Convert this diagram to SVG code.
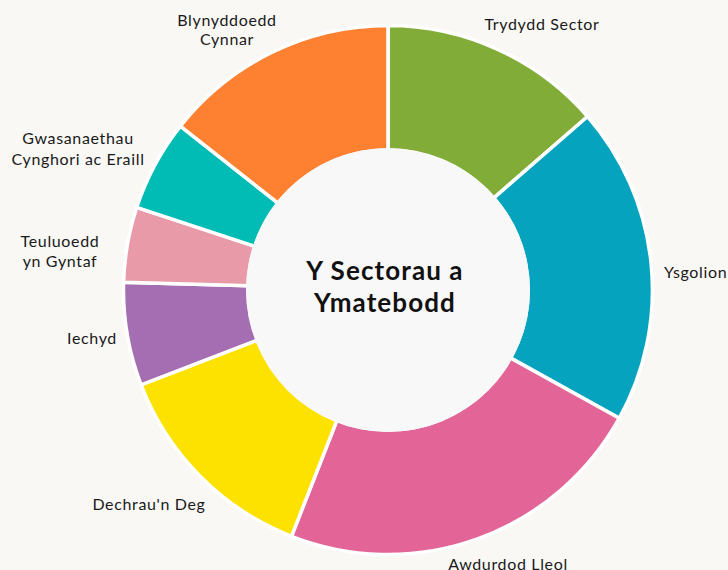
<svg xmlns="http://www.w3.org/2000/svg" width="728" height="570" viewBox="0 0 728 570">
<style>
.seg{stroke:#ffffff;stroke-width:3.5;stroke-linejoin:miter}
.lbl{font-family:Lato,"Liberation Sans",sans-serif;font-size:16px;letter-spacing:0.65px;fill:#1a1a1a;text-anchor:middle}
.title{font-family:Lato,"Liberation Sans",sans-serif;font-size:26px;letter-spacing:1.1px;font-weight:bold;fill:#111111;text-anchor:middle}
</style>
<rect x="0" y="0" width="728" height="570" fill="#f9f8f5"/>
<g id="connectors"></g>
<g id="seg-trydydd"><path class="seg" fill="#80ac37" d="M388,25.5 A264.5,264.5 0 0 1 587.6,116.5 L493.7,198.1 A140,140 0 0 0 388,150 Z"/></g>
<g id="seg-ysgolion"><path class="seg" fill="#05a3be" d="M587.6,116.5 A264.5,264.5 0 0 1 619.3,418.2 L510.4,357.9 A140,140 0 0 0 493.7,198.1 Z"/></g>
<g id="seg-awdurdod"><path class="seg" fill="#e36598" d="M619.3,418.2 A264.5,264.5 0 0 1 291.5,536.3 L336.9,420.4 A140,140 0 0 0 510.4,357.9 Z"/></g>
<g id="seg-dechrau"><path class="seg" fill="#fde200" d="M291.5,536.3 A264.5,264.5 0 0 1 141.1,384.8 L257.3,340.2 A140,140 0 0 0 336.9,420.4 Z"/></g>
<g id="seg-iechyd"><path class="seg" fill="#a66eb2" d="M141.1,384.8 A264.5,264.5 0 0 1 123.6,282.2 L248.1,285.8 A140,140 0 0 0 257.3,340.2 Z"/></g>
<g id="seg-teuluoedd"><path class="seg" fill="#e89aa8" d="M123.6,282.2 A264.5,264.5 0 0 1 136.7,207.4 L255,246.3 A140,140 0 0 0 248.1,285.8 Z"/></g>
<g id="seg-gwasanaethau"><path class="seg" fill="#00bcb4" d="M136.7,207.4 A264.5,264.5 0 0 1 180.4,126.1 L278.1,203.2 A140,140 0 0 0 255,246.3 Z"/></g>
<g id="seg-blynyddoedd"><path class="seg" fill="#fe8132" d="M180.4,126.1 A264.5,264.5 0 0 1 388,25.5 L388,150 A140,140 0 0 0 278.1,203.2 Z"/></g>
<g id="centre">
<circle cx="388" cy="290" r="142" fill="#f8f8f8"/>
<text class="title" x="385" y="280">Y Sectorau a</text>
<text class="title" x="385" y="312">Ymatebodd</text>
</g>
<g id="labels">
<text class="lbl" x="542" y="30">Trydydd Sector</text>
<text class="lbl" x="664" y="278" style="text-anchor:start">Ysgolion</text>
<text class="lbl" x="508" y="570">Awdurdod Lleol</text>
<text class="lbl" x="149" y="510">Dechrau'n Deg</text>
<text class="lbl" x="92" y="344">Iechyd</text>
<text class="lbl" x="60" y="247"><tspan x="60">Teuluoedd</tspan><tspan x="60" dy="19.5">yn Gyntaf</tspan></text>
<text class="lbl" x="78" y="144"><tspan x="78">Gwasanaethau</tspan><tspan x="78" dy="21">Cynghori ac Eraill</tspan></text>
<text class="lbl" x="227" y="26"><tspan x="227">Blynyddoedd</tspan><tspan x="227" dy="19">Cynnar</tspan></text>
</g>
</svg>
